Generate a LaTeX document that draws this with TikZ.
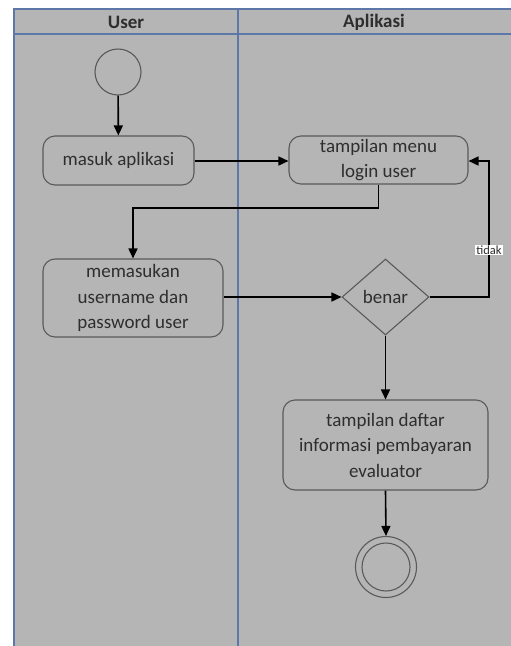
\documentclass[tikz,border=0pt]{standalone}
\usepackage{fontspec}
\setmainfont{Carlito}
\usetikzlibrary{shapes.geometric,arrows.meta}
\definecolor{lanebg}{HTML}{B5B5B5}
\definecolor{laneline}{HTML}{5C77A8}
\definecolor{inkgray}{HTML}{2E2E2E}
\definecolor{edgegray}{HTML}{5A5A5A}
\begin{document}
\begin{tikzpicture}[x=1pt,y=-1pt,
  every node/.style={font=\fontsize{19}{25.5}\selectfont, text=inkgray},
  action/.style={draw=edgegray, line width=1.1pt, rounded corners=12pt, fill=lanebg, align=center, inner sep=0pt},
  decision/.style={draw=edgegray, line width=1.1pt, diamond, fill=lanebg, inner sep=0pt, minimum width=87pt, minimum height=76pt},
  startnode/.style={draw=edgegray, line width=1.1pt, circle, minimum size=46pt, inner sep=0pt},
  flow/.style={draw=black, line width=1.6pt, -{Triangle[length=10pt,width=9pt]}},
  lane/.style={draw=laneline, line width=2pt},
  header/.style={font=\fontsize{19}{22}\bfseries\selectfont, text=inkgray}
]
\useasboundingbox (0,0) rectangle (511,646);
% swimlane frame
\fill[white] (0,0) rectangle (511,646);
\fill[lanebg] (14,9) rectangle (511,646);
\draw[lane] (511,9) -- (14,9) -- (14,646);
\draw[lane] (14,34) -- (511,34);
\draw[lane] (237.5,9) -- (237.5,646);
\node[header] (hUser) at (126,22) {User};
\node[header] (hApp) at (374,22) {Aplikasi};

% activity nodes
\node[startnode] (start) at (118,72) {};
\node[action, minimum width=151pt, minimum height=49pt] (masuk) at (118.5,160.5) {masuk aplikasi};
\node[action, minimum width=179pt, minimum height=48pt] (menu) at (378.5,160) {tampilan menu\\login user};
\node[action, minimum width=180pt, minimum height=78pt] (input) at (133,298) {memasukan\\username dan\\password user};
\node[decision] (benar) at (385.5,297) {benar};
\node[action, minimum width=205pt, minimum height=90pt] (daftar) at (385.5,445) {tampilan daftar\\informasi pembayaran\\evaluator};
\node[draw=edgegray, line width=1.1pt, circle, minimum size=61pt, inner sep=0pt] (finish) at (386,567) {};
\node[draw=edgegray, line width=1.1pt, circle, minimum size=48pt, inner sep=0pt] (finishin) at (386,567) {};
\coordinate (loopR) at (489,297);
\coordinate (loopT) at (489,161);

% control flow
\draw[flow] (start) -- (masuk);
\draw[flow] (masuk.east |- 0,161) -- (menu.west |- 0,161);
\draw[flow] (menu.south) |- (133,208) -- (input.north);
\draw[flow] (input.east |- 0,297) -- (benar.west);
\draw[flow] (benar.east) -- (loopR) -- (loopT) -- (menu.east |- loopT);
\node[fill=white, inner sep=1pt, font=\fontsize{12.5}{13}\selectfont] (tidak) at (489,250) {tidak};
\draw[flow] (benar.south) -- (daftar.north);
\draw[flow] (daftar.south) -- (finish.north);
\end{tikzpicture}
\end{document}
